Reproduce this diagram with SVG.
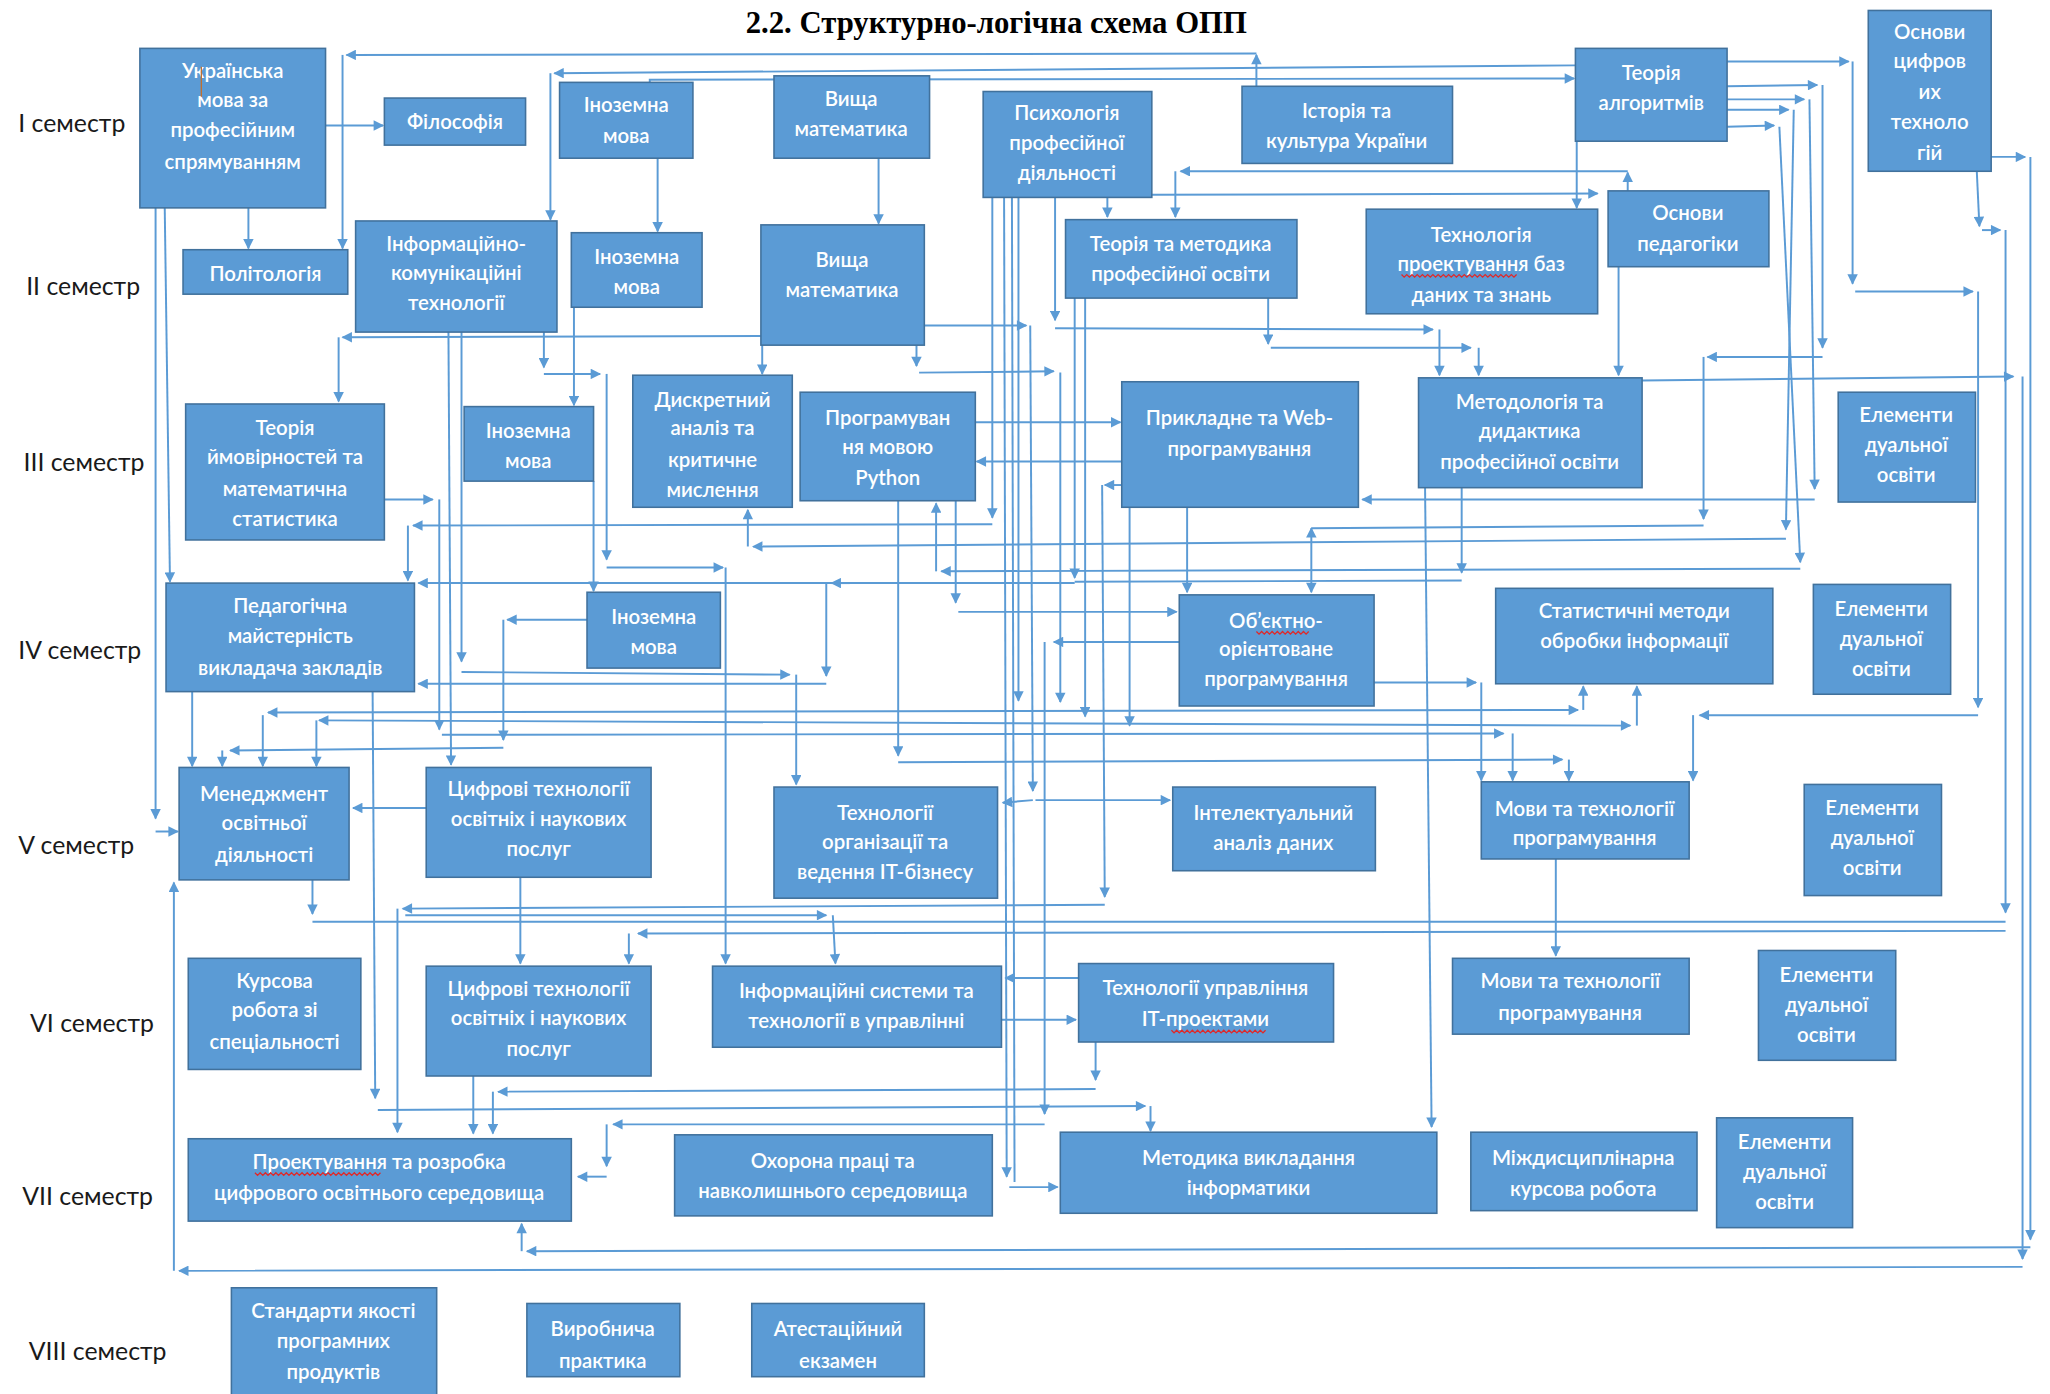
<svg xmlns="http://www.w3.org/2000/svg" width="2050" height="1394" viewBox="0 0 2050 1394">
<style>
.bx{fill:#5B9BD5;stroke:#41719C;stroke-width:1.2}
.t{font-family:Lato,"Open Sans","Liberation Sans",sans-serif;font-size:15.6px;font-weight:600;fill:#FFFFFF;text-anchor:middle}
.s{font-family:Lato,"Open Sans","Liberation Sans",sans-serif;font-size:19px;fill:#1A1A1A}
.h{font-family:"Liberation Serif","Times New Roman",serif;font-size:23.5px;font-weight:bold;fill:#000;text-anchor:middle}
.c{fill:none;stroke:#5B9BD5;stroke-width:1.5;marker-end:url(#ah)}
.n{fill:none;stroke:#5B9BD5;stroke-width:1.5}
.b{fill:none;stroke:#5B9BD5;stroke-width:1.5;marker-start:url(#ah);marker-end:url(#ah)}
.sq{fill:none;stroke:#E02828;stroke-width:1}
</style>
<defs>
<marker id="ah" viewBox="0 0 10 10" refX="9" refY="5" markerWidth="9" markerHeight="8" markerUnits="userSpaceOnUse" orient="auto-start-reverse">
<path d="M0,0 L10,5 L0,10 z" fill="#5B9BD5"/>
</marker>
</defs>
<rect x="0" y="0" width="2050" height="1394" fill="#FFFFFF"/>
<g transform="scale(1.3074)">
<text class="h" x="762" y="25">2.2. Структурно-логічна схема ОПП</text>
<g id="semesters">
<text class="s" x="14" y="101">І семестр</text>
<text class="s" x="20" y="226">ІІ семестр</text>
<text class="s" x="18" y="360">ІІІ семестр</text>
<text class="s" x="14" y="504">IV семестр</text>
<text class="s" x="14" y="653">V семестр</text>
<text class="s" x="23" y="789">VI семестр</text>
<text class="s" x="17" y="922">VII семестр</text>
<text class="s" x="22" y="1040">VIII семестр</text>
</g>
<g id="connectors">
<path class="c" d="M961,66 L961,42"/>
<path class="c" d="M961,41 L265,42"/>
<path class="c" d="M262,42 L262,190"/>
<path class="c" d="M1205,50 L424,56"/>
<path class="c" d="M421,56 L421,168"/>
<path class="c" d="M497,63 L497,61 L1204,60"/>
<path class="c" d="M249,96 L293,96"/>
<path class="c" d="M190,159 L190,190"/>
<path class="c" d="M126,159 L130,445"/>
<path class="c" d="M119,159 L119,626"/>
<path class="c" d="M119,636 L136,636"/>
<path class="c" d="M503,121 L503,177"/>
<path class="c" d="M439,235 L439,310"/>
<path class="c" d="M454,368 L454,452"/>
<path class="c" d="M672,121 L672,171"/>
<path class="c" d="M416,254 L416,281"/>
<path class="c" d="M416,286 L459,286"/>
<path class="c" d="M464,286 L464,428"/>
<path class="c" d="M464,434 L553,434"/>
<path class="c" d="M555,434 L555,737"/>
<path class="c" d="M353,254 L353,506"/>
<path class="c" d="M353,514 L604,516"/>
<path class="c" d="M609,516 L609,600"/>
<path class="c" d="M343,254 L345,585"/>
<path class="c" d="M582,257 L262,258"/>
<path class="c" d="M259,258 L259,307"/>
<path class="c" d="M583,264 L583,286"/>
<path class="c" d="M701,264 L701,280"/>
<path class="c" d="M703,285 L806,284"/>
<path class="c" d="M811,285 L811,537"/>
<path class="c" d="M707,249 L785,249"/>
<path class="c" d="M788,249 L790,605"/>
<path class="c" d="M792,612 L895,612"/>
<path class="c" d="M790,612 L767,614"/>
<path class="c" d="M847,151 L847,166"/>
<path class="c" d="M881,149 L1222,148"/>
<path class="c" d="M807,151 L807,245"/>
<path class="c" d="M807,251 L1096,252"/>
<path class="c" d="M1101,252 L1101,287"/>
<path class="c" d="M759,151 L759,396"/>
<path class="c" d="M759,401 L316,402"/>
<path class="c" d="M312,402 L312,444"/>
<path class="c" d="M768,151 L770,900"/>
<path class="c" d="M772,908 L809,908"/>
<path class="n" d="M774,151 L776,904"/>
<path class="c" d="M779,151 L779,536"/>
<path class="c" d="M822,228 L822,442"/>
<path class="c" d="M822,446 L320,446"/>
<path class="c" d="M830,228 L830,548"/>
<path class="c" d="M970,228 L970,263"/>
<path class="c" d="M972,266 L1125,266"/>
<path class="c" d="M1131,266 L1131,287"/>
<path class="c" d="M1245,146 L1245,132"/>
<path class="c" d="M1245,131 L903,131"/>
<path class="c" d="M899,131 L899,166"/>
<path class="c" d="M1238,204 L1238,287"/>
<path class="c" d="M1206,108 L1206,159"/>
<path class="c" d="M1321,47 L1414,47"/>
<path class="c" d="M1417,47 L1417,217"/>
<path class="c" d="M1419,223 L1509,223"/>
<path class="c" d="M1513,223 L1513,541"/>
<path class="c" d="M1513,547 L1300,547"/>
<path class="c" d="M1295,547 L1295,597"/>
<path class="c" d="M1321,66 L1390,65"/>
<path class="c" d="M1394,65 L1394,266"/>
<path class="c" d="M1394,273 L1306,273"/>
<path class="c" d="M1303,273 L1303,397"/>
<path class="n" d="M1303,402 L1003,404"/>
<path class="b" d="M1003,404 L1003,453"/>
<path class="c" d="M1321,76 L1380,76"/>
<path class="c" d="M1384,76 L1388,374"/>
<path class="c" d="M1388,382 L1042,382"/>
<path class="c" d="M1321,84 L1368,84"/>
<path class="c" d="M1372,84 L1366,405"/>
<path class="c" d="M1366,412 L576,418"/>
<path class="c" d="M572,418 L572,390"/>
<path class="c" d="M1321,97 L1357,96"/>
<path class="c" d="M1361,97 L1377,430"/>
<path class="c" d="M1377,435 L720,437"/>
<path class="c" d="M716,437 L716,385"/>
<path class="c" d="M746,323 L857,323"/>
<path class="c" d="M858,353 L747,353"/>
<path class="c" d="M858,371 L845,371"/>
<path class="c" d="M843,371 L845,686"/>
<path class="c" d="M845,692 L308,695"/>
<path class="c" d="M304,695 L304,866"/>
<path class="c" d="M864,388 L864,555"/>
<path class="c" d="M908,388 L908,453"/>
<path class="c" d="M731,383 L731,461"/>
<path class="c" d="M733,468 L900,468"/>
<path class="c" d="M687,383 L687,578"/>
<path class="c" d="M687,583 L1195,581"/>
<path class="c" d="M1200,581 L1200,597"/>
<path class="c" d="M1118,373 L1118,438"/>
<path class="n" d="M1118,444 L822,445"/>
<path class="c" d="M1090,373 L1095,862"/>
<path class="c" d="M1256,291 L1540,288"/>
<path class="c" d="M1547,288 L1547,963"/>
<path class="c" d="M1547,969 L137,972"/>
<path class="c" d="M133,972 L133,675"/>
<path class="c" d="M1523,120 L1549,120"/>
<path class="c" d="M1553,120 L1553,948"/>
<path class="c" d="M1553,954 L403,957"/>
<path class="c" d="M399,957 L399,936"/>
<path class="c" d="M1512,131 L1514,173"/>
<path class="c" d="M1516,176 L1530,176"/>
<path class="c" d="M1534,176 L1534,698"/>
<path class="n" d="M1534,705 L239,705"/>
<path class="c" d="M239,673 L239,699"/>
<path class="c" d="M1534,712 L488,714"/>
<path class="c" d="M481,714 L481,737"/>
<path class="c" d="M147,529 L147,586"/>
<path class="c" d="M285,529 L287,840"/>
<path class="c" d="M289,849 L876,846"/>
<path class="c" d="M880,846 L880,865"/>
<path class="c" d="M650,446 L636,446"/>
<path class="c" d="M632,446 L632,517"/>
<path class="c" d="M632,523 L320,523"/>
<path class="c" d="M294,382 L331,382"/>
<path class="c" d="M336,382 L336,558"/>
<path class="c" d="M338,562 L1150,561"/>
<path class="c" d="M1157,561 L1157,597"/>
<path class="c" d="M449,474 L388,474"/>
<path class="c" d="M385,474 L385,566"/>
<path class="c" d="M385,572 L176,574"/>
<path class="c" d="M170,574 L170,586"/>
<path class="b" d="M205,545 L1207,543"/>
<path class="c" d="M1211,543 L1211,525"/>
<path class="c" d="M201,547 L201,586"/>
<path class="b" d="M244,551 L1247,555"/>
<path class="c" d="M1252,555 L1252,525"/>
<path class="c" d="M242,551 L242,586"/>
<path class="c" d="M902,491 L806,491"/>
<path class="c" d="M799,491 L799,852"/>
<path class="c" d="M799,860 L469,860"/>
<path class="c" d="M464,860 L464,892"/>
<path class="c" d="M464,900 L442,900"/>
<path class="c" d="M1051,522 L1129,522"/>
<path class="c" d="M1133,522 L1133,597"/>
<path class="c" d="M326,618 L270,618"/>
<path class="c" d="M398,671 L398,737"/>
<path class="c" d="M362,823 L362,867"/>
<path class="c" d="M310,700 L632,700"/>
<path class="c" d="M637,700 L639,737"/>
<path class="c" d="M825,748 L769,748"/>
<path class="c" d="M766,780 L823,780"/>
<path class="c" d="M838,797 L838,826"/>
<path class="c" d="M838,833 L381,835"/>
<path class="c" d="M377,835 L377,867"/>
<path class="c" d="M1190,657 L1190,731"/>
</g>
<g id="n1"><rect class="bx" x="107" y="37" width="142" height="122"/><text class="t"><tspan x="178" y="60">Українська</tspan><tspan x="178" y="82">мова за</tspan><tspan x="178" y="105">професійним</tspan><tspan x="178" y="129">спрямуванням</tspan></text><path d="M154,51 L154,74" stroke="#C07030" stroke-width="1"/></g>
<g id="n2"><rect class="bx" x="294" y="75" width="108" height="36"/><text class="t"><tspan x="348" y="99">Філософія</tspan></text></g>
<g id="n3"><rect class="bx" x="428" y="63" width="102" height="58"/><text class="t"><tspan x="479" y="86">Іноземна</tspan><tspan x="479" y="109">мова</tspan></text></g>
<g id="n4"><rect class="bx" x="592" y="58" width="119" height="63"/><text class="t"><tspan x="651" y="81">Вища</tspan><tspan x="651" y="104">математика</tspan></text></g>
<g id="n5"><rect class="bx" x="752" y="70" width="129" height="81"/><text class="t"><tspan x="816" y="92">Психологія</tspan><tspan x="816" y="115">професійної</tspan><tspan x="816" y="138">діяльності</tspan></text></g>
<g id="n6"><rect class="bx" x="950" y="66" width="161" height="59"/><text class="t"><tspan x="1030" y="90">Історія та</tspan><tspan x="1030" y="113">культура України</tspan></text></g>
<g id="n7"><rect class="bx" x="1205" y="37" width="116" height="71"/><text class="t"><tspan x="1263" y="61">Теорія</tspan><tspan x="1263" y="84">алгоритмів</tspan></text></g>
<g id="n8"><rect class="bx" x="1429" y="8" width="94" height="123"/><text class="t"><tspan x="1476" y="30">Основи</tspan><tspan x="1476" y="52">цифров</tspan><tspan x="1476" y="76">их</tspan><tspan x="1476" y="99">техноло</tspan><tspan x="1476" y="122">гій</tspan></text></g>
<g id="n9"><rect class="bx" x="140" y="191" width="126" height="34"/><text class="t"><tspan x="203" y="215">Політологія</tspan></text></g>
<g id="n10"><rect class="bx" x="272" y="169" width="154" height="85"/><text class="t"><tspan x="349" y="192">Інформаційно-</tspan><tspan x="349" y="214">комунікаційні</tspan><tspan x="349" y="237">технології</tspan></text></g>
<g id="n11"><rect class="bx" x="437" y="178" width="100" height="57"/><text class="t"><tspan x="487" y="202">Іноземна</tspan><tspan x="487" y="225">мова</tspan></text></g>
<g id="n12"><rect class="bx" x="582" y="172" width="125" height="92"/><text class="t"><tspan x="644" y="204">Вища</tspan><tspan x="644" y="227">математика</tspan></text></g>
<g id="n13"><rect class="bx" x="815" y="168" width="177" height="60"/><text class="t"><tspan x="903" y="192">Теорія та методика</tspan><tspan x="903" y="215">професійної освіти</tspan></text></g>
<g id="n14"><rect class="bx" x="1045" y="160" width="177" height="80"/><text class="t"><tspan x="1133" y="185">Технологія</tspan><tspan x="1133" y="207">проектування баз</tspan><tspan x="1133" y="231">даних та знань</tspan></text><path class="sq" d="M1072,210 l2,2 l2,-2 l2,2 l2,-2 l2,2 l2,-2 l2,2 l2,-2 l2,2 l2,-2 l2,2 l2,-2 l2,2 l2,-2 l2,2 l2,-2 l2,2 l2,-2 l2,2 l2,-2 l2,2 l2,-2 l2,2 l2,-2 l2,2 l2,-2 l2,2 l2,-2 l2,2 l2,-2 l2,2 l2,-2 l2,2 l2,-2 l2,2 l2,-2 l2,2 l2,-2 l2,2 l2,-2 l2,2 l2,-2 l2,2 l2,-2"/></g>
<g id="n15"><rect class="bx" x="1230" y="146" width="123" height="58"/><text class="t"><tspan x="1291" y="168">Основи</tspan><tspan x="1291" y="192">педагогіки</tspan></text></g>
<g id="n16"><rect class="bx" x="142" y="309" width="152" height="104"/><text class="t"><tspan x="218" y="333">Теорія</tspan><tspan x="218" y="355">ймовірностей та</tspan><tspan x="218" y="379">математична</tspan><tspan x="218" y="402">статистика</tspan></text></g>
<g id="n17"><rect class="bx" x="355" y="311" width="99" height="57"/><text class="t"><tspan x="404" y="335">Іноземна</tspan><tspan x="404" y="358">мова</tspan></text></g>
<g id="n18"><rect class="bx" x="484" y="287" width="122" height="101"/><text class="t"><tspan x="545" y="311">Дискретний</tspan><tspan x="545" y="333">аналіз та</tspan><tspan x="545" y="357">критичне</tspan><tspan x="545" y="380">мислення</tspan></text></g>
<g id="n19"><rect class="bx" x="612" y="300" width="134" height="83"/><text class="t"><tspan x="679" y="325">Програмуван</tspan><tspan x="679" y="347">ня мовою</tspan><tspan x="679" y="371">Python</tspan></text></g>
<g id="n20"><rect class="bx" x="858" y="292" width="181" height="96"/><text class="t"><tspan x="948" y="325">Прикладне та Web-</tspan><tspan x="948" y="349">програмування</tspan></text></g>
<g id="n21"><rect class="bx" x="1085" y="289" width="171" height="84"/><text class="t"><tspan x="1170" y="313">Методологія та</tspan><tspan x="1170" y="335">дидактика</tspan><tspan x="1170" y="359">професійної освіти</tspan></text></g>
<g id="n22"><rect class="bx" x="1406" y="300" width="105" height="84"/><text class="t"><tspan x="1458" y="323">Елементи</tspan><tspan x="1458" y="346">дуальної</tspan><tspan x="1458" y="369">освіти</tspan></text></g>
<g id="n23"><rect class="bx" x="127" y="446" width="190" height="83"/><text class="t"><tspan x="222" y="469">Педагогічна</tspan><tspan x="222" y="492">майстерність</tspan><tspan x="222" y="516">викладача закладів</tspan></text></g>
<g id="n24"><rect class="bx" x="449" y="453" width="102" height="58"/><text class="t"><tspan x="500" y="477">Іноземна</tspan><tspan x="500" y="500">мова</tspan></text></g>
<g id="n25"><rect class="bx" x="902" y="455" width="149" height="85"/><text class="t"><tspan x="976" y="480">Об’єктно-</tspan><tspan x="976" y="502">орієнтоване</tspan><tspan x="976" y="525">програмування</tspan></text><path class="sq" d="M961,483 l2,2 l2,-2 l2,2 l2,-2 l2,2 l2,-2 l2,2 l2,-2 l2,2 l2,-2 l2,2 l2,-2 l2,2 l2,-2 l2,2 l2,-2 l2,2 l2,-2 l2,2 l2,-2"/></g>
<g id="n26"><rect class="bx" x="1144" y="450" width="212" height="73"/><text class="t"><tspan x="1250" y="473">Статистичні методи</tspan><tspan x="1250" y="496">обробки інформації</tspan></text></g>
<g id="n27"><rect class="bx" x="1387" y="447" width="105" height="84"/><text class="t"><tspan x="1439" y="471">Елементи</tspan><tspan x="1439" y="494">дуальної</tspan><tspan x="1439" y="517">освіти</tspan></text></g>
<g id="n28"><rect class="bx" x="137" y="587" width="130" height="86"/><text class="t"><tspan x="202" y="613">Менеджмент</tspan><tspan x="202" y="635">освітньої</tspan><tspan x="202" y="659">діяльності</tspan></text></g>
<g id="n29"><rect class="bx" x="326" y="587" width="172" height="84"/><text class="t"><tspan x="412" y="609">Цифрові технології</tspan><tspan x="412" y="632">освітніх і наукових</tspan><tspan x="412" y="655">послуг</tspan></text></g>
<g id="n30"><rect class="bx" x="592" y="602" width="171" height="85"/><text class="t"><tspan x="677" y="627">Технології</tspan><tspan x="677" y="649">організації та</tspan><tspan x="677" y="672">ведення ІТ-бізнесу</tspan></text></g>
<g id="n31"><rect class="bx" x="897" y="602" width="155" height="64"/><text class="t"><tspan x="974" y="627">Інтелектуальний</tspan><tspan x="974" y="650">аналіз даних</tspan></text></g>
<g id="n32"><rect class="bx" x="1133" y="598" width="159" height="59"/><text class="t"><tspan x="1212" y="624">Мови та технології</tspan><tspan x="1212" y="646">програмування</tspan></text></g>
<g id="n33"><rect class="bx" x="1380" y="600" width="105" height="85"/><text class="t"><tspan x="1432" y="623">Елементи</tspan><tspan x="1432" y="646">дуальної</tspan><tspan x="1432" y="669">освіти</tspan></text></g>
<g id="n34"><rect class="bx" x="144" y="733" width="132" height="85"/><text class="t"><tspan x="210" y="756">Курсова</tspan><tspan x="210" y="778">робота зі</tspan><tspan x="210" y="802">спеціальності</tspan></text></g>
<g id="n35"><rect class="bx" x="326" y="739" width="172" height="84"/><text class="t"><tspan x="412" y="762">Цифрові технології</tspan><tspan x="412" y="784">освітніх і наукових</tspan><tspan x="412" y="808">послуг</tspan></text></g>
<g id="n36"><rect class="bx" x="545" y="739" width="221" height="62"/><text class="t"><tspan x="655" y="763">Інформаційні системи та</tspan><tspan x="655" y="786">технології в управлінні</tspan></text></g>
<g id="n37"><rect class="bx" x="825" y="737" width="195" height="60"/><text class="t"><tspan x="922" y="761">Технології управління</tspan><tspan x="922" y="785">ІТ-проектами</tspan></text><path class="sq" d="M896,788 l2,2 l2,-2 l2,2 l2,-2 l2,2 l2,-2 l2,2 l2,-2 l2,2 l2,-2 l2,2 l2,-2 l2,2 l2,-2 l2,2 l2,-2 l2,2 l2,-2 l2,2 l2,-2 l2,2 l2,-2 l2,2 l2,-2 l2,2 l2,-2 l2,2 l2,-2 l2,2 l2,-2 l2,2 l2,-2 l2,2 l2,-2 l2,2 l2,-2"/></g>
<g id="n38"><rect class="bx" x="1111" y="733" width="181" height="58"/><text class="t"><tspan x="1201" y="756">Мови та технології</tspan><tspan x="1201" y="780">програмування</tspan></text></g>
<g id="n39"><rect class="bx" x="1345" y="727" width="105" height="84"/><text class="t"><tspan x="1397" y="751">Елементи</tspan><tspan x="1397" y="774">дуальної</tspan><tspan x="1397" y="797">освіти</tspan></text></g>
<g id="n40"><rect class="bx" x="144" y="871" width="293" height="63"/><text class="t"><tspan x="290" y="894">Проектування та розробка</tspan><tspan x="290" y="918">цифрового освітнього середовища</tspan></text><path class="sq" d="M195,897 l2,2 l2,-2 l2,2 l2,-2 l2,2 l2,-2 l2,2 l2,-2 l2,2 l2,-2 l2,2 l2,-2 l2,2 l2,-2 l2,2 l2,-2 l2,2 l2,-2 l2,2 l2,-2 l2,2 l2,-2 l2,2 l2,-2 l2,2 l2,-2 l2,2 l2,-2 l2,2 l2,-2 l2,2 l2,-2 l2,2 l2,-2 l2,2 l2,-2 l2,2 l2,-2 l2,2 l2,-2 l2,2 l2,-2 l2,2 l2,-2 l2,2 l2,-2 l2,2 l2,-2"/></g>
<g id="n41"><rect class="bx" x="516" y="868" width="243" height="62"/><text class="t"><tspan x="637" y="893">Охорона праці та</tspan><tspan x="637" y="916">навколишнього середовища</tspan></text></g>
<g id="n42"><rect class="bx" x="811" y="866" width="288" height="62"/><text class="t"><tspan x="955" y="891">Методика викладання</tspan><tspan x="955" y="914">інформатики</tspan></text></g>
<g id="n43"><rect class="bx" x="1125" y="866" width="173" height="60"/><text class="t"><tspan x="1211" y="891">Міждисциплінарна</tspan><tspan x="1211" y="915">курсова робота</tspan></text></g>
<g id="n44"><rect class="bx" x="1313" y="855" width="104" height="84"/><text class="t"><tspan x="1365" y="879">Елементи</tspan><tspan x="1365" y="902">дуальної</tspan><tspan x="1365" y="925">освіти</tspan></text></g>
<g id="n45"><rect class="bx" x="177" y="985" width="157" height="90"/><text class="t"><tspan x="255" y="1008">Стандарти якості</tspan><tspan x="255" y="1031">програмних</tspan><tspan x="255" y="1055">продуктів</tspan></text></g>
<g id="n46"><rect class="bx" x="403" y="997" width="117" height="56"/><text class="t"><tspan x="461" y="1022">Виробнича</tspan><tspan x="461" y="1046">практика</tspan></text></g>
<g id="n47"><rect class="bx" x="575" y="997" width="132" height="56"/><text class="t"><tspan x="641" y="1022">Атестаційний</tspan><tspan x="641" y="1046">екзамен</tspan></text></g>
</g>
</svg>
